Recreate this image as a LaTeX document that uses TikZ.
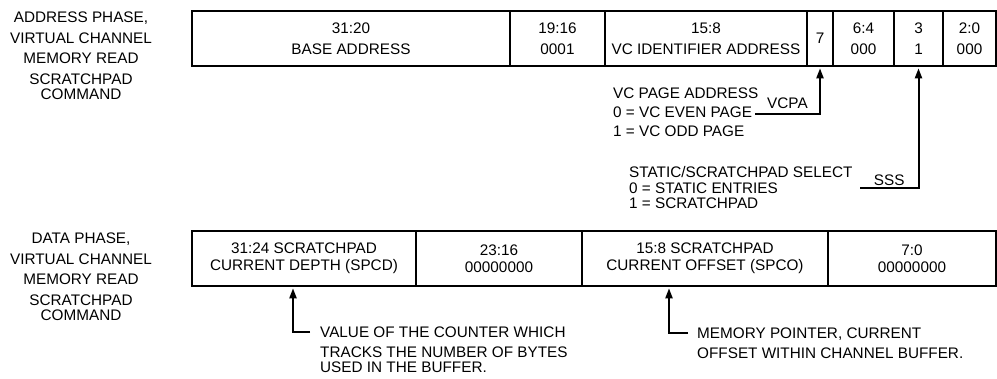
\documentclass[tikz,border=0pt]{standalone}
\usepackage{fontspec}
\setmainfont{Liberation Sans}
\usetikzlibrary{arrows.meta}
\tikzset{
  fld/.style ={draw, line width=2.6pt, inner sep=0pt, align=center, minimum height=55pt},
  rowa/.style={fld, font=\fontsize{15.3}{21.5}\selectfont},
  rowb/.style={fld, font=\fontsize{15.3}{17}\selectfont},
  side/.style={align=center, inner sep=0pt, font=\fontsize{15.3}{20.5}\selectfont},
  note/.style={align=left, inner sep=0pt, anchor=north west, font=\fontsize{15.3}{19}\selectfont},
  tag/.style ={inner sep=0pt, font=\fontsize{15.3}{18}\selectfont},
  flow/.style={-{Triangle[length=10pt,width=7pt]}, line width=2pt, shorten >=1pt},
}
\begin{document}
\begin{tikzpicture}[x=1pt,y=-1pt]
  \useasboundingbox (0,0) rectangle (997,378);
  % address phase
  \node[side](cmda) at (81,56){ADDRESS PHASE,\\VIRTUAL CHANNEL\\MEMORY READ\\SCRATCHPAD\\[-5pt]COMMAND};
  \node[rowa, minimum width=318pt](base) at (351,38.5){31:20\\BASE ADDRESS};
  \node[rowa, minimum width=95pt] (ext)  at (557.5,38.5){19:16\\0001};
  \node[rowa, minimum width=202pt](vcid) at (706,38.5){15:8\\VC IDENTIFIER ADDRESS};
  \node[rowa, minimum width=26pt] (pg)   at (820,38.5){7};
  \node[rowa, minimum width=61pt] (res)  at (863.5,38.5){6:4\\000};
  \node[rowa, minimum width=49pt] (sel)  at (918.5,38.5){3\\1};
  \node[rowa, minimum width=53pt] (low)  at (969.5,38.5){2:0\\000};
  \node[note](vcpa) at (613,87.5){VC PAGE ADDRESS\\0 = VC EVEN PAGE\\1 = VC ODD PAGE};
  \node[note, font=\fontsize{15.3}{15.5}\selectfont](sss) at (629,166.5){STATIC/SCRATCHPAD SELECT\\0 = STATIC ENTRIES\\1 = SCRATCHPAD};
  \coordinate (vcpaend) at (755,114);
  \coordinate (sssend) at (860,188);
  \draw[flow](vcpaend) -| node[tag, above=4pt, pos=.25]{VCPA} (pg.south);
  \draw[flow](sssend) -| node[tag, above=1.5pt, pos=.25]{SSS} (sel.south);
  % data phase
  \node[side](cmdd) at (81,277){DATA PHASE,\\VIRTUAL CHANNEL\\MEMORY READ\\SCRATCHPAD\\[-5pt]COMMAND};
  \node[rowb, minimum width=224pt](depth) at (304,258.5){31:24 SCRATCHPAD\\CURRENT DEPTH (SPCD)};
  \node[rowb, minimum width=166pt](mid)   at (499,258.5){23:16\\00000000};
  \node[rowb, minimum width=246pt](offs)  at (705,258.5){15:8 SCRATCHPAD\\CURRENT OFFSET (SPCO)};
  \node[rowb, minimum width=168pt](tail)  at (912,258.5){7:0\\00000000};
  \node[note, font=\fontsize{15.3}{20}\selectfont](cnt) at (320,326.5){VALUE OF THE COUNTER WHICH\\TRACKS THE NUMBER OF BYTES\\[-5pt]USED IN THE BUFFER.};
  \node[note, font=\fontsize{15.3}{20}\selectfont](ptr) at (697,327.5){MEMORY POINTER, CURRENT\\OFFSET WITHIN CHANNEL BUFFER.};
  \coordinate (cntend) at (310,332);
  \coordinate (ptrend) at (688,333);
  \draw[flow](cntend) -| ([xshift=-11pt]depth.south);
  \draw[flow](ptrend) -| ([xshift=-36pt]offs.south);
\end{tikzpicture}
\end{document}
